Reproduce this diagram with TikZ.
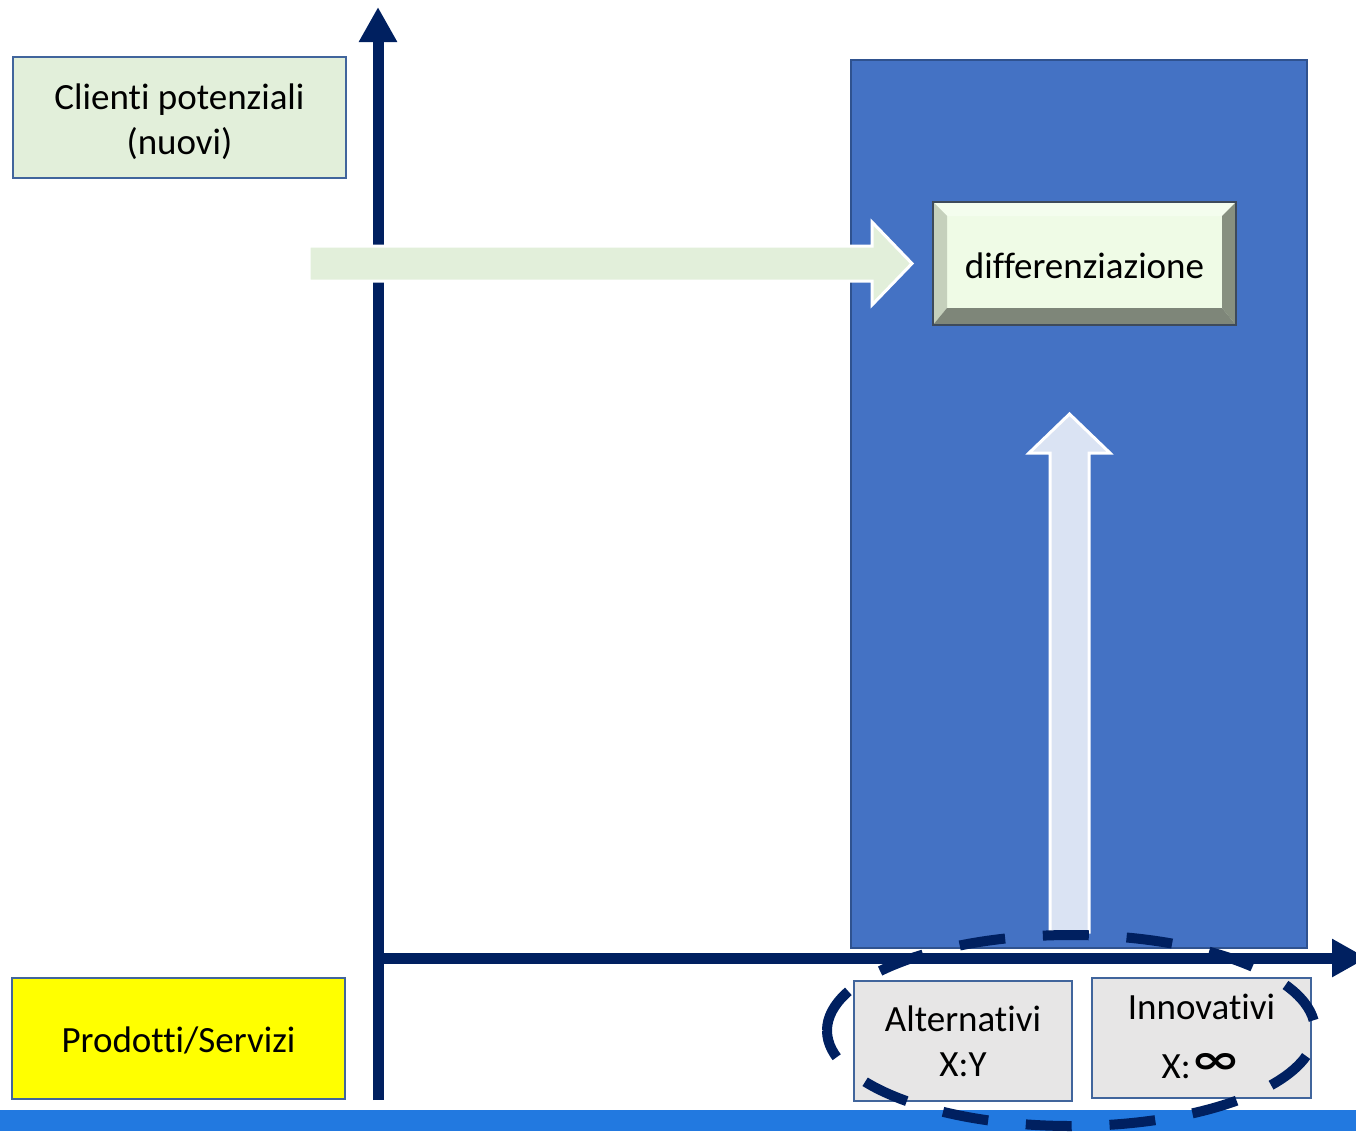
\documentclass[tikz,border=0pt]{standalone}
\usepackage{fontspec}
\setmainfont[Ligatures={NoCommon}]{Carlito}
\newfontfamily\symfont{DejaVu Sans}
\usetikzlibrary{arrows.meta}
\definecolor{navy}{HTML}{002060}
\definecolor{boxborder}{HTML}{41659C}
\definecolor{lightgreen}{HTML}{E2EFDA}
\definecolor{midblue}{HTML}{4472C4}
\definecolor{rectborder}{HTML}{2F528F}
\definecolor{paleblue}{HTML}{DAE3F3}
\definecolor{lightgray}{HTML}{E7E6E6}
\definecolor{barblue}{HTML}{2279E0}
\definecolor{pureyellow}{HTML}{FFFF00}
\definecolor{btnface}{HTML}{EFFBE6}
\definecolor{btntop}{HTML}{F4FDEE}
\definecolor{btnleft}{HTML}{C5D0BC}
\definecolor{btnright}{HTML}{879080}
\definecolor{btnbottom}{HTML}{7E8679}
\definecolor{btnborder}{HTML}{3E4A5A}
\newcommand\shiftdown[2]{\raisebox{-#1}[\height][\depth]{#2}}
\tikzset{
  txt/.style={font=\fontsize{18.5pt}{22.5pt}\selectfont, text=black, align=center, inner sep=0pt},
  labelbox/.style={txt, draw=boxborder, line width=1pt},
  axisline/.style={navy, line width=5.5pt, -{Triangle[width=18pt,length=17.5pt]}},
  blockarrow/.style={draw=white, line width=1.5pt, line join=miter},
  groupring/.style={navy, line width=5pt, dash pattern=on 23pt off 18.9pt}
}
\begin{document}
\begin{tikzpicture}[x=0.5pt,y=-0.5pt]
\useasboundingbox (0,0) rectangle (1356,1131);
\clip (0,0) rectangle (1356,1131);
% bottom bar
\fill[barblue] (0,1110) rectangle (1356,1131);
% side labels
\node[labelbox, fill=lightgreen, minimum width=166.5pt, minimum height=60.5pt] (clienti) at (179.5,117.5) {\shiftdown{2.5pt}{\begin{tabular}{@{}c@{}}Clienti potenziali\\(nuovi)\end{tabular}}};
\node[labelbox, fill=pureyellow, minimum width=166.5pt, minimum height=60.5pt] (prodotti) at (178.5,1038.5) {\shiftdown{1pt}{Prodotti/Servizi}};
% axes
\coordinate (origin) at (378,958);
\coordinate (ytop) at (378,7);
\coordinate (ybot) at (378,1100);
\coordinate (xend) at (1367,958);
\draw[axisline] (ybot) -- (ytop);
\draw[axisline] (origin) -- (xend);
% blue zone
\node[draw=rectborder, fill=midblue, line width=1pt, minimum width=228pt, minimum height=444pt, inner sep=0pt] (zone) at (1079,504) {};
% green arrow
\filldraw[blockarrow, fill=lightgreen] (309,246) -- (872,246) -- (872,222) -- (912,263.5) -- (872,305) -- (872,281) -- (309,281) -- cycle;
% up arrow
\filldraw[blockarrow, fill=paleblue] (1050,932) -- (1050,453) -- (1029,453) -- (1069.5,414) -- (1110,453) -- (1089,453) -- (1089,932) -- cycle;
% bevel button
\node[txt, fill=btnface, draw=btnborder, line width=1pt, minimum width=151.5pt, minimum height=61.5pt,
  path picture={
    \coordinate (sw) at (path picture bounding box.south west);
    \coordinate (nw) at (path picture bounding box.north west);
    \coordinate (ne) at (path picture bounding box.north east);
    \coordinate (se) at (path picture bounding box.south east);
    \coordinate (isw) at ([xshift=7pt,yshift=8.5pt]sw);
    \coordinate (inw) at ([xshift=7pt,yshift=-7pt]nw);
    \coordinate (ine) at ([xshift=-7pt,yshift=-7pt]ne);
    \coordinate (ise) at ([xshift=-7pt,yshift=8.5pt]se);
    \fill[btntop] (nw) -- (ne) -- (ine) -- (inw) -- cycle;
    \fill[btnleft] (sw) -- (nw) -- (inw) -- (isw) -- cycle;
    \fill[btnright] (ne) -- (se) -- (ise) -- (ine) -- cycle;
    \fill[btnbottom] (sw) -- (se) -- (ise) -- (isw) -- cycle;
  }] (diff) at (1084.5,263.5) {\shiftdown{1pt}{differenziazione}};
% small boxes
\node[labelbox, fill=lightgray, minimum width=109pt, minimum height=60pt] (alt) at (963,1041) {Alternativi\\X:Y};
\node[labelbox, fill=lightgray, minimum width=109.5pt, minimum height=60pt] (inn) at (1201.5,1038) {\shiftdown{1pt}{\begin{tabular}{@{}c@{}}Innovativi\\[7pt]X:\raisebox{2.4pt}{\scalebox{1}[0.65]{\symfont\bfseries\fontsize{30.5pt}{30.5pt}\selectfont ∞}}\end{tabular}}};
% dashed ellipse round the two boxes
\coordinate (ellleft) at (827,1030.5);
\draw[groupring] (ellleft) arc[start angle=180, end angle=-180, x radius=122pt, y radius=47.75pt];
\end{tikzpicture}
\end{document}
